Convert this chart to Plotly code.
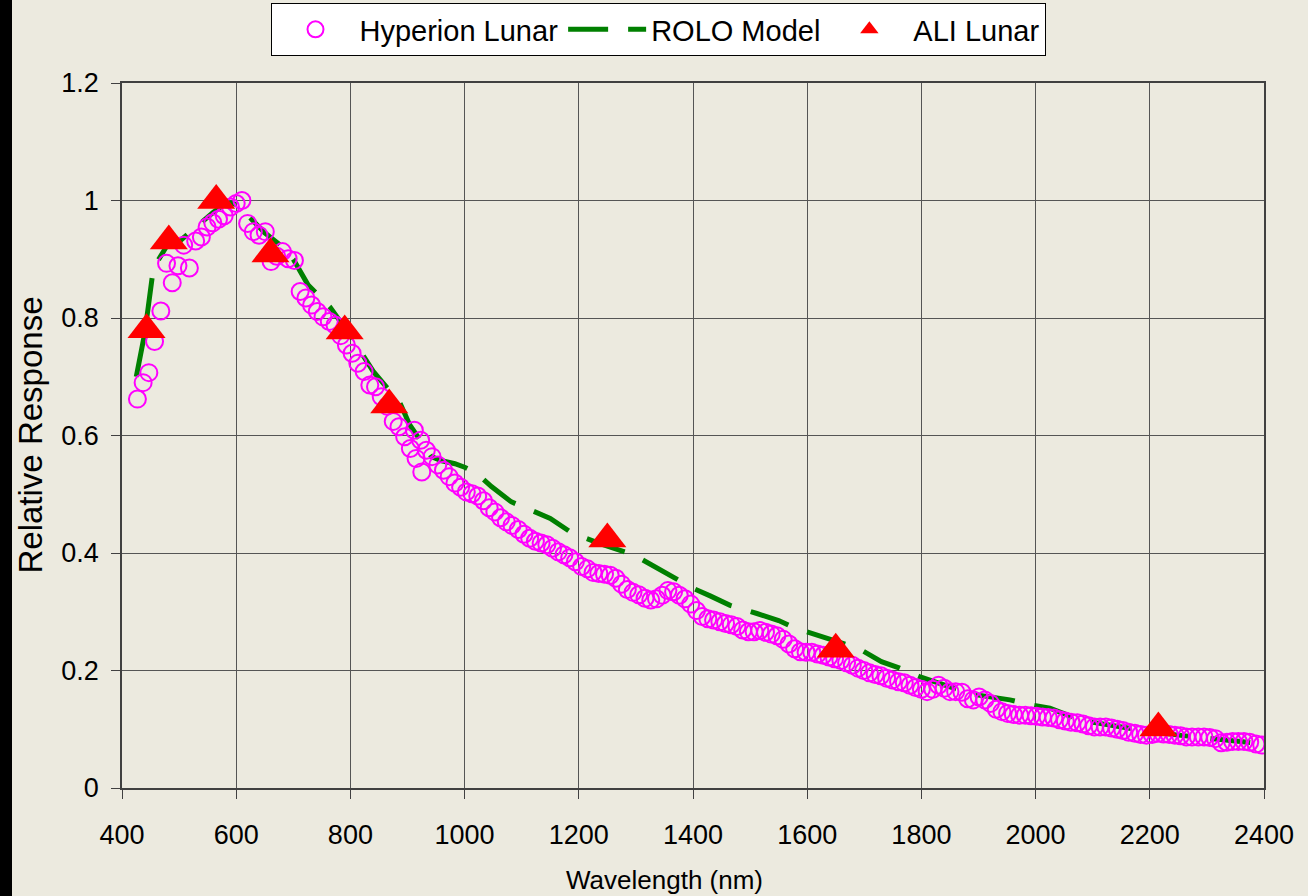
import plotly.graph_objects as go

# ---------------- data ----------------
hyp_wl = [427, 437, 447, 457, 468, 478, 488, 498, 508, 518, 529, 539, 549, 559, 569, 579,
          590, 600, 610, 620, 630, 640, 651, 661, 671, 681, 691, 702, 712, 722, 732, 742,
          752, 763, 773, 783, 793, 803, 813, 824, 834, 844, 854, 864, 875, 885, 895, 905,
          915, 925,
          912, 923, 933, 943, 953, 963, 973, 983, 993, 1003, 1013, 1023, 1033, 1043, 1053,
          1063, 1073, 1083, 1094, 1104, 1114, 1124, 1134, 1144, 1154, 1164, 1174, 1184,
          1194, 1205, 1215, 1225, 1235, 1245, 1255, 1265, 1275, 1285, 1295, 1305, 1316,
          1326, 1336, 1346, 1356, 1366, 1376, 1386, 1396, 1406, 1416, 1426, 1436, 1447,
          1457, 1467, 1477, 1487, 1497, 1507, 1517, 1527, 1537, 1547, 1558, 1568, 1578,
          1588, 1598, 1608, 1618, 1628, 1638, 1648, 1659, 1669, 1679, 1689, 1699, 1709,
          1719, 1729, 1739, 1749, 1760, 1770, 1780, 1790, 1800, 1810, 1820, 1830, 1840,
          1850, 1860, 1871, 1881, 1891, 1901, 1911, 1921, 1931, 1941, 1951, 1961, 1972,
          1982, 1992, 2002, 2012, 2022, 2032, 2042, 2052, 2062, 2073, 2083, 2093, 2103,
          2113, 2123, 2133, 2143, 2153, 2163, 2174, 2184, 2194, 2204, 2214, 2224, 2234,
          2244, 2254, 2264, 2274, 2285, 2295, 2305, 2315, 2325, 2335, 2345, 2355, 2365,
          2375, 2386, 2396]
hyp_val = [0.662, 0.690, 0.707, 0.760, 0.812, 0.893, 0.860, 0.889, 0.924, 0.885, 0.931,
           0.938, 0.955, 0.962, 0.968, 0.974, 0.989, 0.995, 1.000, 0.961, 0.947, 0.941,
           0.947, 0.896, 0.905, 0.913, 0.901, 0.898, 0.845, 0.834, 0.822, 0.811, 0.802,
           0.794, 0.788, 0.770, 0.754, 0.740, 0.723, 0.709, 0.686, 0.683, 0.666, 0.650,
           0.624, 0.615, 0.598, 0.578, 0.561, 0.538,
           0.609, 0.592, 0.575, 0.564, 0.550, 0.541, 0.530, 0.519, 0.512, 0.504, 0.501,
           0.497, 0.489, 0.477, 0.470, 0.460, 0.453, 0.447, 0.440, 0.432, 0.425, 0.420,
           0.417, 0.414, 0.408, 0.402, 0.397, 0.392, 0.385, 0.377, 0.373, 0.367, 0.365,
           0.364, 0.362, 0.357, 0.347, 0.338, 0.333, 0.329, 0.323, 0.320, 0.322, 0.328,
           0.336, 0.334, 0.328, 0.322, 0.313, 0.302, 0.292, 0.288, 0.286, 0.283, 0.280,
           0.278, 0.275, 0.269, 0.266, 0.266, 0.268, 0.265, 0.262, 0.259, 0.253, 0.245,
           0.237, 0.232, 0.231, 0.231, 0.228, 0.226, 0.223, 0.220, 0.217, 0.213, 0.209,
           0.204, 0.200, 0.196, 0.193, 0.191, 0.187, 0.184, 0.181, 0.179, 0.175, 0.171,
           0.168, 0.164, 0.168, 0.175, 0.170, 0.164, 0.164, 0.163, 0.152, 0.150, 0.155,
           0.150, 0.144, 0.134, 0.130, 0.127, 0.125, 0.124, 0.124, 0.123, 0.122, 0.121,
           0.120, 0.119, 0.116, 0.114, 0.112, 0.111, 0.109, 0.106, 0.104, 0.104, 0.104,
           0.102, 0.100, 0.098, 0.095, 0.093, 0.091, 0.090, 0.091, 0.093, 0.092, 0.091,
           0.090, 0.089, 0.087, 0.087, 0.087, 0.087, 0.086, 0.084, 0.077, 0.078, 0.079,
           0.079, 0.079, 0.078, 0.075, 0.073]

rolo_wl = [425, 440, 455, 480, 500, 530, 560, 585, 600, 620, 650, 680, 700, 726, 764, 800,
           840, 887, 904, 942, 960, 983, 1000, 1021, 1047, 1082, 1110, 1150, 1188, 1237,
           1296, 1330, 1360, 1400, 1430, 1465, 1512, 1550, 1579, 1622, 1660, 1689, 1730,
           1762, 1798, 1850, 1900, 1955, 1990, 2025, 2080, 2150, 2200, 2250, 2300, 2350,
           2400]
rolo_val = [0.700, 0.775, 0.885, 0.925, 0.930, 0.955, 0.980, 0.997, 0.993, 0.975, 0.945,
            0.922, 0.900, 0.856, 0.819, 0.770, 0.709, 0.655, 0.618, 0.564, 0.557, 0.552,
            0.546, 0.536, 0.513, 0.487, 0.475, 0.459, 0.434, 0.416, 0.397, 0.378, 0.360,
            0.340, 0.327, 0.311, 0.297, 0.285, 0.272, 0.258, 0.247, 0.238, 0.215, 0.204,
            0.189, 0.172, 0.158, 0.150, 0.142, 0.136, 0.115, 0.103, 0.096, 0.090, 0.085,
            0.080, 0.075]

ali_wl = [443, 482, 565, 660, 790, 868, 1250, 1650, 2215]
ali_val = [0.780, 0.931, 1.000, 0.909, 0.778, 0.652, 0.424, 0.236, 0.102]

x_ticks = [400, 600, 800, 1000, 1200, 1400, 1600, 1800, 2000, 2200, 2400]
y_ticks = [0, 0.2, 0.4, 0.6, 0.8, 1.0, 1.2]
y_tick_text = ["0", "0.2", "0.4", "0.6", "0.8", "1", "1.2"]

# ---------------- figure ----------------
BG = "#ECEADF"
FONT = "Arial, Liberation Sans, sans-serif"

fig = go.Figure()
fig.add_trace(go.Scatter(
    x=rolo_wl, y=rolo_val, mode="lines", name="ROLO Model", legendrank=2,
    line=dict(color="#008000", width=5, dash="40px,20px"),
))
fig.add_trace(go.Scatter(
    x=hyp_wl, y=hyp_val, mode="markers", name="Hyperion Lunar", legendrank=1,
    marker=dict(symbol="circle-open", size=17, color="#FF00FF", line=dict(width=2, color="#FF00FF")),
))
fig.add_trace(go.Scatter(
    x=ali_wl, y=ali_val, mode="markers", name="ALI Lunar", legendrank=3,
    marker=dict(symbol="triangle-up", size=33, color="#FF0000", line=dict(width=0)),
))

L, R, T, B = 122, 44, 83, 108
W, H = 1308, 896
pw, ph = W - L - R, H - T - B

fig.update_layout(
    width=W, height=H,
    margin=dict(l=L, r=R, t=T, b=B, autoexpand=False),
    paper_bgcolor=BG, plot_bgcolor=BG,
    font=dict(family=FONT, size=27, color="black"),
    showlegend=True,
    legend=dict(
        orientation="h", x=(658 - L) / pw, xanchor="center",
        y=1 + (T - 3) / ph, yanchor="top",
        bgcolor="white", bordercolor="black", borderwidth=1,
        font=dict(family=FONT, size=29, color="black"),
        itemwidth=78, traceorder="normal",
    ),
    xaxis=dict(
        range=[400, 2400], tickvals=x_ticks, ticks="outside", ticklen=9,
        tickcolor="#404040", tickwidth=1, ticklabelstandoff=13,
        showgrid=True, gridcolor="#555555", gridwidth=1.3,
        showline=True, linecolor="#404040", linewidth=1.5, mirror=True,
        zeroline=False, tickfont=dict(size=27),
    ),
    yaxis=dict(
        range=[0, 1.2], tickvals=y_ticks, ticktext=y_tick_text, ticks="outside", ticklen=9,
        tickcolor="#404040", tickwidth=1, ticklabelstandoff=7,
        showgrid=True, gridcolor="#555555", gridwidth=1.3,
        showline=True, linecolor="#404040", linewidth=1.5, mirror=True,
        zeroline=False, tickfont=dict(size=27),
    ),
    annotations=[
        dict(text="Wavelength (nm)", xref="paper", yref="paper",
             x=(664 - L) / pw, y=-(880 - (T + ph)) / ph, xanchor="center", yanchor="middle",
             showarrow=False, font=dict(size=26)),
        dict(text="Relative Response", xref="paper", yref="paper",
             x=(30 - L) / pw, y=0.5, xanchor="center", yanchor="middle", textangle=-90,
             showarrow=False, font=dict(size=33)),
    ],
    shapes=[
        dict(type="rect", xref="paper", yref="paper",
             x0=-L / pw, x1=(12 - L) / pw, y0=-B / ph, y1=1 + T / ph,
             fillcolor="black", line=dict(width=0), layer="below"),
    ],
)

fig.write_html("out.html")
